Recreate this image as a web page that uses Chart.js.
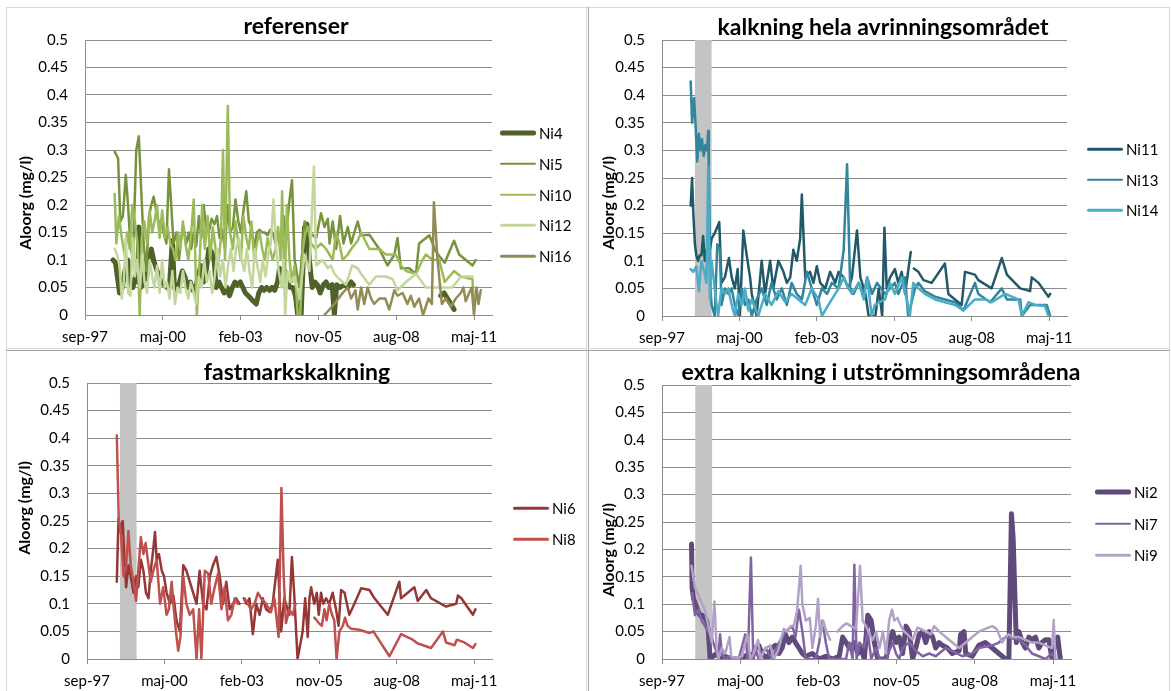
<!DOCTYPE html>
<html>
<head>
<meta charset="utf-8">
<script src="https://cdn.jsdelivr.net/npm/chart.js@4.4.1/dist/chart.umd.min.js"></script>
<style>
  body { margin: 0; background: #fff; font-family: Lato, sans-serif; }
  #page { position: relative; width: 1171px; height: 691px; overflow: hidden; background: #fff; }
  .box { position: absolute; }
  .line { position: absolute; pointer-events: none; }
  .title { position: absolute; font-weight: bold; font-size: 23px; color: #000; white-space: nowrap; transform: translate(-50%, -50%); }
  .ytitle { position: absolute; font-weight: bold; font-size: 16px; color: #000; white-space: nowrap; transform: translate(-50%, -50%) rotate(-90deg); }
  .legend { position: absolute; font-size: 15px; color: #000; }
  .legend .item { position: absolute; left: 0; height: 20px; width: 80px; }
  .legend .swatch { position: absolute; left: 0; width: 36px; top: 50%; transform: translateY(-50%); border-radius: 2px; }
  .legend .label { position: absolute; left: 39px; top: 1px; line-height: 18px; white-space: nowrap; }
</style>
</head>
<body>
<div id="page">
  <div class="box" style="left:0;top:0;width:585px;height:347px"><canvas id="chartRef"></canvas></div>
  <div class="box" style="left:585px;top:0;width:586px;height:347px"><canvas id="chartHela"></canvas></div>
  <div class="box" style="left:0;top:345px;width:585px;height:346px"><canvas id="chartFast"></canvas></div>
  <div class="box" style="left:585px;top:345px;width:586px;height:346px"><canvas id="chartExtra"></canvas></div>

  <div class="title" style="left:296px;top:25px">referenser</div>
  <div class="title" style="left:883px;top:26px">kalkning hela avrinningsområdet</div>
  <div class="title" style="left:297px;top:371px">fastmarkskalkning</div>
  <div class="title" style="left:881px;top:371px">extra kalkning i utströmningsområdena</div>

  <div class="ytitle" style="left:24px;top:203px">Aloorg (mg/l)</div>
  <div class="ytitle" style="left:607px;top:203px">Aloorg (mg/l)</div>
  <div class="ytitle" style="left:23px;top:508px">Aloorg (mg/l)</div>
  <div class="ytitle" style="left:607px;top:550px">Aloorg (mg/l)</div>

  <div class="legend" id="legendRef" style="left:500px;top:123px"></div>
  <div class="legend" id="legendHela" style="left:1087px;top:139px"></div>
  <div class="legend" id="legendFast" style="left:513px;top:498px"></div>
  <div class="legend" id="legendExtra" style="left:1095px;top:482px"></div>

  <!-- ramar runt diagrammen -->
  <div class="line" style="left:6px;top:7px;width:1164px;height:1px;background:#d9d9d9"></div>
  <div class="line" style="left:6px;top:7px;width:1px;height:684px;background:#d9d9d9"></div>
  <div class="line" style="left:1169px;top:7px;width:1px;height:684px;background:#d9d9d9"></div>
  <div class="line" style="left:586px;top:7px;width:1px;height:684px;background:#d9d9d9"></div>
  <div class="line" style="left:588px;top:7px;width:1px;height:684px;background:#a6a6a6"></div>
  <div class="line" style="left:6px;top:348px;width:1164px;height:1px;background:#d9d9d9"></div>
  <div class="line" style="left:6px;top:350px;width:1164px;height:1px;background:#a6a6a6"></div>
</div>

<script>
// ---- data: [decimalår, Aloorg mg/l], null = uppehåll i mätserien ----

// referenser
const ni4 = [[1998.65,0.10],[1998.74,0.095],[1998.83,0.06],[1998.88,0.04],[1998.98,0.05],[1999.07,0.08],[1999.17,0.10],[1999.26,0.06],[1999.35,0.05],[1999.45,0.07],[1999.52,0.06],[1999.56,0.16],[1999.63,0.05],[1999.73,0.06],[1999.82,0.07],[1999.92,0.10],[2000.00,0.12],[2000.08,0.10],[2000.17,0.085],[2000.27,0.07],[2000.36,0.06],[2000.45,0.055],[2000.55,0.05],[2000.64,0.055],[2000.74,0.135],[2000.81,0.05],[2000.90,0.045],[2000.99,0.06],[2001.09,0.08],[2001.18,0.07],[2001.28,0.05],[2001.37,0.06],[2001.46,0.045],[2001.56,0.05],[2001.65,0.07],[2001.74,0.09],[2001.84,0.06],[2001.93,0.08],[2002.02,0.12],[2002.12,0.115],[2002.21,0.10],[2002.28,0.05],[2002.38,0.06],[2002.47,0.05],[2002.56,0.04],[2002.66,0.05],[2002.75,0.035],[2002.85,0.05],[2002.94,0.06],[2003.03,0.055],[2003.13,0.06],[2003.22,0.05],[2003.31,0.04],[2003.41,0.035],[2003.50,0.03],[2003.59,0.025],[2003.69,0.02],[2003.78,0.04],[2003.88,0.05],[2003.97,0.045],[2004.06,0.05],[2004.16,0.045],[2004.25,0.05],[2004.34,0.045],[2004.44,0.06],[2004.51,0.085],[2004.60,0.07],[2004.69,0.08],[2004.79,0.06],[2004.88,0.05],[2004.98,0.05],[2005.07,0.035],[2005.15,0],[2005.27,0],[2005.39,0.16],[2005.47,0.165],[2005.56,0.10],[2005.66,0.05],[2005.75,0.06],[2005.84,0.055],[2005.94,0.04],[2006.05,0.055],[2006.15,0.06],[2006.24,0.05],[2006.36,0.055],[2006.44,0],[2006.52,0.055],[2006.64,0.05],[2006.79,0.055],[2006.91,0.05],[2007.03,0.06],[2007.11,0.055],[2008.50,null],[2010.18,0.035],[2010.30,0.04],[2010.42,0.03],[2010.54,0.02],[2010.65,0.01]];
const ni5 = [[1998.71,0.297],[1998.83,0.285],[1998.91,0.17],[1999.00,0.18],[1999.10,0.255],[1999.18,0.20],[1999.26,0.13],[1999.35,0.10],[1999.47,0.30],[1999.56,0.325],[1999.65,0.22],[1999.73,0.13],[1999.82,0.08],[1999.92,0.18],[2000.00,0.20],[2000.08,0.215],[2000.17,0.19],[2000.27,0.16],[2000.35,0.175],[2000.43,0.15],[2000.53,0.13],[2000.62,0.265],[2000.70,0.20],[2000.78,0.13],[2000.88,0.15],[2000.97,0.10],[2001.05,0.14],[2001.13,0.16],[2001.23,0.13],[2001.32,0.15],[2001.40,0.12],[2001.49,0.15],[2001.58,0.125],[2001.67,0.18],[2001.76,0.14],[2001.84,0.20],[2001.93,0.16],[2002.02,0.15],[2002.12,0.175],[2002.22,0.165],[2002.31,0.18],[2002.40,0.14],[2002.49,0.155],[2002.59,0.12],[2002.68,0.20],[2002.77,0.15],[2002.87,0.16],[2002.96,0.21],[2003.06,0.17],[2003.15,0.15],[2003.24,0.19],[2003.34,0.225],[2003.43,0.17],[2003.52,0.16],[2003.62,0.12],[2003.71,0.15],[2003.81,0.155],[2003.90,0.15],[2003.99,0.15],[2004.09,0.145],[2004.18,0.155],[2004.27,0.15],[2004.37,0.13],[2004.46,0.15],[2004.55,0.12],[2004.65,0.18],[2004.74,0.14],[2004.84,0.20],[2004.95,0.245],[2005.04,0.10],[2005.21,0.05],[2005.39,0.17],[2005.56,0.15],[2005.80,0.14],[2005.97,0.185],[2006.09,0.16],[2006.21,0.175],[2006.27,0.13],[2006.38,0.17],[2006.50,0.12],[2006.64,0.18],[2006.76,0.13],[2006.91,0.16],[2007.03,0.13],[2007.14,0.15],[2007.26,0.17],[2007.38,0.145],[2007.67,0.146],[2008.02,0.12],[2008.31,0.09],[2008.55,0.11],[2008.66,0.14],[2008.78,0.085],[2009.07,0.085],[2009.31,0.075],[2009.42,0.13],[2009.78,0.145],[2010.01,0.115],[2010.32,0.095],[2010.65,0.135],[2010.83,0.11],[2011.30,0.09],[2011.41,0.10]];
const ni10 = [[1998.71,0.22],[1998.77,0.13],[1998.86,0.18],[1998.96,0.14],[1999.06,0.11],[1999.15,0.15],[1999.24,0.12],[1999.33,0.20],[1999.42,0.17],[1999.51,0.13],[1999.59,0],[1999.66,0.14],[1999.75,0.17],[1999.85,0.13],[1999.94,0.19],[2000.03,0.15],[2000.11,0.17],[2000.20,0.20],[2000.29,0.14],[2000.38,0.19],[2000.48,0.14],[2000.57,0.16],[2000.67,0.13],[2000.76,0.12],[2000.85,0.10],[2000.94,0.15],[2001.02,0.12],[2001.11,0.17],[2001.20,0.13],[2001.30,0.10],[2001.39,0.14],[2001.49,0.21],[2001.60,0],[2001.70,0.10],[2001.79,0.20],[2001.88,0.12],[2001.98,0.18],[2002.07,0.10],[2002.16,0.16],[2002.26,0.12],[2002.35,0.09],[2002.45,0.14],[2002.52,0.30],[2002.59,0.10],[2002.69,0.38],[2002.77,0.15],[2002.87,0.12],[2002.96,0.17],[2003.06,0.13],[2003.15,0.10],[2003.24,0.18],[2003.34,0.14],[2003.43,0.12],[2003.52,0.17],[2003.62,0.10],[2003.71,0.13],[2003.81,0.15],[2003.90,0.12],[2003.99,0.10],[2004.09,0.14],[2004.18,0.12],[2004.27,0.10],[2004.37,0.12],[2004.46,0.16],[2004.55,0.10],[2004.60,0.225],[2004.69,0.05],[2004.77,0.20],[2004.86,0.10],[2004.95,0.06],[2005.04,0.09],[2005.15,0],[2005.24,0],[2005.33,0.12],[2005.42,0.15],[2005.50,0.16],[2005.62,0.13],[2005.77,0.12],[2005.97,0.13],[2006.15,0.12],[2006.38,0.10],[2006.50,0.15],[2006.62,0.13],[2006.73,0.10],[2006.91,0.11],[2007.03,0.12],[2007.26,0.135],[2007.38,0.15],[2007.67,0.12],[2008.02,0.12],[2008.25,0.11],[2008.60,0.11],[2008.78,0.09],[2008.96,0.08],[2009.31,0.075],[2009.54,0.10],[2009.66,0.11],[2009.89,0.10],[2010.13,0.10],[2010.32,0.06],[2010.65,0.08],[2010.89,0.07],[2011.30,0.065],[2011.35,0.02]];
const ni12 = [[1998.71,0.12],[1998.79,0.11],[1998.88,0.09],[1998.96,0.03],[1999.03,0.06],[1999.10,0.14],[1999.18,0.04],[1999.26,0.035],[1999.35,0.14],[1999.42,0.07],[1999.49,0.10],[1999.59,0.05],[1999.68,0.11],[1999.76,0.06],[1999.85,0.04],[1999.94,0.10],[2000.03,0.07],[2000.11,0.05],[2000.20,0.09],[2000.29,0.04],[2000.38,0.10],[2000.47,0.05],[2000.55,0.06],[2000.64,0.03],[2000.74,0.08],[2000.83,0.02],[2000.92,0.05],[2001.02,0.04],[2001.11,0.08],[2001.20,0.05],[2001.30,0.03],[2001.39,0.06],[2001.49,0.04],[2001.58,0.02],[2001.67,0.07],[2001.77,0.05],[2001.86,0.10],[2001.95,0.06],[2002.05,0.08],[2002.14,0.04],[2002.23,0.07],[2002.33,0.12],[2002.42,0.07],[2002.52,0.10],[2002.61,0.05],[2002.70,0.09],[2002.80,0.12],[2002.89,0.08],[2002.98,0.12],[2003.08,0.14],[2003.17,0.10],[2003.27,0.08],[2003.36,0.12],[2003.45,0.08],[2003.55,0.05],[2003.64,0.12],[2003.73,0.09],[2003.83,0.06],[2003.92,0.10],[2004.02,0.07],[2004.11,0.11],[2004.20,0.13],[2004.30,0.21],[2004.39,0.12],[2004.48,0.08],[2004.58,0.05],[2004.65,0.10],[2004.71,0],[2004.79,0.08],[2004.88,0.06],[2005.04,0.07],[2005.21,0.03],[2005.39,0.11],[2005.56,0.08],[2005.72,0.27],[2005.80,0.09],[2005.91,0.095],[2006.03,0.10],[2006.21,0.085],[2006.32,0.09],[2006.44,0.075],[2006.62,0.065],[2006.85,0.055],[2007.06,0.09],[2007.26,0.085],[2007.38,0.075],[2007.67,0.055],[2007.90,0.07],[2008.25,0.07],[2008.49,0.065],[2008.66,0.045],[2008.96,0.06],[2009.31,0.075],[2009.66,0.05],[2010.13,0.05],[2010.59,0.05],[2010.89,0.07],[2011.30,0.07]];
const ni16 = [[2006.09,0],[2006.44,0.02],[2006.73,0.04],[2006.91,0.05],[2007.03,0.03],[2007.18,0.045],[2007.26,0.01],[2007.38,0.05],[2007.49,0.02],[2007.61,0.05],[2007.73,0.03],[2007.84,0.02],[2008.02,0.03],[2008.23,0.03],[2008.37,0.01],[2008.55,0.045],[2008.66,0.035],[2008.84,0.04],[2009.01,0.02],[2009.13,0.035],[2009.25,0.015],[2009.42,0.03],[2009.56,0],[2009.75,0.03],[2009.87,0.02],[2009.94,0.205],[2010.07,0.10],[2010.22,0.02],[2010.36,0.03],[2010.54,0.015],[2010.71,0.03],[2010.89,0.04],[2010.98,0.05],[2011.06,0.025],[2011.18,0.04],[2011.27,0.05],[2011.35,0],[2011.44,0.05],[2011.51,0.02],[2011.59,0.045]];

// kalkning hela avrinningsområdet
const ni11 = [[1998.68,0.20],[1998.73,0.25],[1998.77,0.19],[1998.83,0.13],[1998.88,0.11],[1998.94,0.10],[1999.00,0.11],[1999.06,0.11],[1999.12,0.145],[1999.18,0.10],[1999.24,0.12],[1999.30,0.10],[1999.42,0.14],[1999.53,0.15],[1999.69,0.17],[1999.77,0.06],[1999.89,0.07],[2000.03,0.105],[2000.13,0.07],[2000.24,0.05],[2000.34,0.085],[2000.42,0],[2000.54,0.155],[2000.66,0.11],[2000.78,0.07],[2000.84,0.04],[2001.01,0],[2001.19,0.10],[2001.31,0.04],[2001.49,0.10],[2001.60,0.05],[2001.78,0.10],[2001.96,0.08],[2002.08,0.06],[2002.20,0.07],[2002.31,0.12],[2002.43,0.10],[2002.55,0.14],[2002.61,0.22],[2002.73,0.07],[2002.90,0.08],[2003.02,0.06],[2003.14,0.09],[2003.26,0.06],[2003.44,0.05],[2003.61,0.08],[2003.79,0.06],[2003.91,0.08],[2004.09,0.07],[2004.26,0.05],[2004.38,0.07],[2004.56,0.155],[2004.68,0.07],[2004.86,0.04],[2004.97,0],[2005.09,0],[2005.21,0],[2005.33,0.05],[2005.45,0],[2005.53,0.16],[2005.61,0.05],[2005.73,0.07],[2005.90,0.085],[2006.02,0.06],[2006.14,0.08],[2006.26,0.04],[2006.46,0.116],[2006.50,null],[2006.57,0.086],[2006.73,0.08],[2006.91,0.065],[2007.20,0.06],[2007.67,0.095],[2007.79,0.04],[2008.26,0.02],[2008.38,0.08],[2008.73,0.075],[2008.85,0.065],[2009.32,0.05],[2009.68,0.105],[2009.86,0.075],[2010.33,0.05],[2010.68,0.045],[2010.74,0.07],[2010.98,0.06],[2011.33,0.035],[2011.39,0.04]];
const ni13 = [[1998.68,0.425],[1998.73,0.35],[1998.80,0.395],[1998.86,0.34],[1998.91,0.28],[1998.97,0.33],[1999.03,0.30],[1999.08,0.32],[1999.14,0.29],[1999.20,0.31],[1999.26,0.30],[1999.30,0.335],[1999.32,0.27],[1999.38,0.05],[1999.42,0.02],[1999.53,0],[1999.62,0.13],[1999.71,0.12],[1999.77,0.02],[1999.89,0.05],[2000.01,0.04],[2000.13,0.05],[2000.24,0.02],[2000.36,0],[2000.48,0.05],[2000.60,0.02],[2000.72,0.03],[2000.84,0],[2001.01,0.03],[2001.19,0.05],[2001.37,0.02],[2001.54,0.06],[2001.72,0.03],[2001.90,0.05],[2002.08,0.02],[2002.25,0.06],[2002.43,0.04],[2002.61,0.03],[2002.79,0.08],[2002.96,0.05],[2003.14,0.02],[2003.32,0.05],[2003.50,0.04],[2003.67,0.06],[2003.91,0.05],[2004.09,0.12],[2004.21,0.275],[2004.32,0.05],[2004.44,0.04],[2004.62,0.06],[2004.80,0.04],[2004.92,0.07],[2005.09,0.04],[2005.27,0.06],[2005.55,0.04],[2005.73,0.05],[2005.90,0.06],[2006.02,0.04],[2006.26,0.07],[2006.37,0],[2006.61,0.05],[2006.73,0.06],[2006.96,0.045],[2007.32,0.035],[2007.67,0.03],[2008.03,0.025],[2008.32,0.01],[2008.73,0.06],[2008.85,0.04],[2009.27,0.025],[2009.68,0.05],[2009.86,0.03],[2010.33,0.03],[2010.39,0],[2010.68,0.02],[2010.86,0.02],[2011.27,0.02],[2011.39,0]];
const ni14 = [[1998.68,0.085],[1998.77,0.08],[1998.88,0.09],[1998.97,0.045],[1999.06,0.10],[1999.16,0.08],[1999.24,0.06],[1999.30,0.27],[1999.36,0.03],[1999.42,0.10],[1999.53,0.05],[1999.65,0],[1999.77,0.05],[1999.89,0.04],[2000.01,0.05],[2000.13,0.02],[2000.24,0],[2000.36,0.04],[2000.48,0.02],[2000.60,0.05],[2000.72,0.01],[2000.84,0.03],[2001.07,0],[2001.31,0.04],[2001.54,0.02],[2001.78,0.045],[2002.02,0.025],[2002.25,0.04],[2002.49,0.03],[2002.73,0.02],[2002.96,0.05],[2003.20,0.03],[2003.32,0],[2003.55,0.02],[2003.79,0.04],[2003.91,0.05],[2004.09,0.07],[2004.26,0.05],[2004.38,0.04],[2004.62,0.06],[2004.80,0.03],[2004.92,0.07],[2005.08,0],[2005.19,0.02],[2005.55,0.03],[2005.73,0.06],[2005.90,0.04],[2006.14,0.07],[2006.32,0.03],[2006.43,0],[2006.55,0.06],[2006.73,0.05],[2006.96,0.04],[2007.32,0.03],[2007.67,0.025],[2008.03,0.02],[2008.32,0.01],[2008.73,0.03],[2009.09,0.03],[2009.32,0.025],[2009.80,0.04],[2010.27,0.03],[2010.39,0],[2010.62,0.025],[2010.86,0.02],[2011.21,0.018],[2011.33,0]];

// fastmarkskalkning
const ni6 = [[1998.72,0.14],[1998.78,0.255],[1998.86,0.23],[1998.93,0.25],[1998.99,0.18],[1999.05,0.13],[1999.13,0.17],[1999.21,0.15],[1999.31,0.12],[1999.40,0.15],[1999.48,0.13],[1999.57,0.18],[1999.66,0.16],[1999.75,0.12],[1999.84,0.11],[1999.92,0.16],[1999.99,0.19],[2000.07,0.23],[2000.13,0.18],[2000.21,0.19],[2000.31,0.16],[2000.39,0.15],[2000.48,0.12],[2000.60,0.10],[2000.72,0.115],[2000.83,0.07],[2000.95,0.05],[2001.07,0.17],[2001.18,0.16],[2001.30,0.14],[2001.42,0.12],[2001.54,0.10],[2001.65,0.16],[2001.77,0.10],[2001.89,0.09],[2002.01,0.15],[2002.12,0.17],[2002.24,0.185],[2002.36,0.15],[2002.48,0.10],[2002.59,0.14],[2002.71,0.09],[2002.83,0.10],[2002.94,0.11],[2003.06,0.10],[2003.12,null],[2003.21,0.11],[2003.30,0.10],[2003.41,0.11],[2003.53,0.045],[2003.65,0.10],[2003.77,0.08],[2003.88,0.11],[2004.00,0.09],[2004.12,0.085],[2004.23,0.10],[2004.41,0.18],[2004.53,0.05],[2004.64,0.11],[2004.76,0.09],[2004.82,0.08],[2004.91,0.185],[2004.99,0.12],[2005.11,0],[2005.29,0.05],[2005.38,0.11],[2005.47,0.04],[2005.53,0.11],[2005.59,0.13],[2005.70,0.10],[2005.79,0.12],[2005.86,0.08],[2005.94,0.12],[2006.02,0.10],[2006.12,0.11],[2006.23,0.10],[2006.35,0.12],[2006.47,0.09],[2006.56,0.06],[2006.65,0.125],[2006.77,0.12],[2006.94,0.08],[2007.12,0.10],[2007.36,0.128],[2007.65,0.125],[2007.83,0.11],[2008.30,0.08],[2008.71,0.14],[2008.77,0.11],[2009.24,0.13],[2009.36,0.105],[2009.66,0.125],[2009.83,0.11],[2010.36,0.095],[2010.72,0.10],[2010.78,0.115],[2010.90,0.11],[2011.31,0.08],[2011.40,0.09]];
const ni8 = [[1998.72,0.405],[1998.79,0.25],[1998.86,0.23],[1998.96,0.15],[1999.05,0.17],[1999.13,0.232],[1999.21,0.17],[1999.31,0.14],[1999.40,0.105],[1999.48,0.16],[1999.57,0.221],[1999.66,0.19],[1999.74,0.21],[1999.84,0.17],[1999.92,0.14],[2000.01,0.16],[2000.13,0.18],[2000.25,0.10],[2000.36,0.13],[2000.48,0.08],[2000.56,0.09],[2000.66,0.14],[2000.72,0.10],[2000.81,0.05],[2000.89,0.015],[2000.97,0.04],[2001.07,0.15],[2001.18,0.10],[2001.30,0.08],[2001.42,0.09],[2001.54,0],[2001.63,0.09],[2001.71,0],[2001.83,0.16],[2001.95,0.155],[2002.06,0.10],[2002.18,0.13],[2002.30,0.155],[2002.42,0.09],[2002.53,0.13],[2002.65,0.07],[2002.77,0.08],[2002.89,0.11],[2003.00,0.10],[2003.12,null],[2003.24,0.11],[2003.35,0.10],[2003.47,0.09],[2003.59,0.10],[2003.71,0.12],[2003.82,0.11],[2004.00,0.10],[2004.17,0.085],[2004.29,0.11],[2004.44,0.04],[2004.54,0.31],[2004.62,0.15],[2004.70,0.065],[2004.82,0.09],[2004.94,0.08],[2005.04,0.10],[2005.40,null],[2005.70,0.075],[2005.79,0.07],[2005.86,0.065],[2005.97,0.06],[2006.06,0.09],[2006.14,0.07],[2006.23,0.10],[2006.33,0.08],[2006.41,0.07],[2006.49,0],[2006.59,0.05],[2006.71,0.06],[2006.79,0.075],[2006.88,0.06],[2007.00,0.055],[2007.30,0.053],[2007.65,0.047],[2007.79,0.05],[2008.36,0.005],[2008.77,0.045],[2009.18,0.035],[2009.36,0.028],[2009.83,0.02],[2010.25,0.05],[2010.36,0.03],[2010.66,0.025],[2010.74,0.035],[2011.01,0.03],[2011.31,0.02],[2011.40,0.027]];

// extra kalkning i utströmningsområdena
const ni2 = [[1998.70,0.21],[1998.72,0.13],[1998.77,0.11],[1998.84,0.10],[1998.91,0.09],[1998.99,0.08],[1999.08,0.08],[1999.15,0.075],[1999.23,0.07],[1999.29,0.05],[1999.35,0],[1999.46,0.005],[1999.58,0.01],[1999.70,0],[1999.88,0.005],[2000.11,0],[2000.47,0],[2000.70,0.01],[2000.82,0],[2000.93,0.02],[2001.05,0.025],[2001.17,0.01],[2001.34,0],[2001.52,0.02],[2001.64,0.025],[2001.76,0.01],[2001.87,0.02],[2001.99,0.045],[2002.11,0.03],[2002.23,0.04],[2002.34,0.03],[2002.46,0.02],[2002.58,0.01],[2002.70,0.005],[2002.93,0.01],[2003.17,0],[2003.40,0.005],[2003.64,0],[2003.87,0.005],[2003.99,0.04],[2004.11,0.03],[2004.22,0.02],[2004.40,0.03],[2004.52,0.01],[2004.63,0.02],[2004.75,0],[2004.87,0.08],[2004.99,0.07],[2005.10,0.03],[2005.22,0],[2005.40,0],[2005.51,0],[2005.62,0.03],[2005.74,0.05],[2005.86,0.03],[2005.97,0.04],[2006.09,0.01],[2006.21,0.06],[2006.32,0.05],[2006.44,0],[2006.55,0.02],[2006.67,0.045],[2006.79,0.05],[2006.90,0.03],[2007.02,0.05],[2007.14,0.04],[2007.25,0.02],[2007.37,0.03],[2007.48,0.025],[2007.66,0.02],[2007.83,0.01],[2008.07,0.015],[2008.12,0.045],[2008.24,0.05],[2008.30,0.01],[2008.53,0.005],[2008.76,0.025],[2008.98,0.03],[2009.23,0.02],[2009.46,0.01],[2009.69,0],[2009.81,0],[2009.90,0.265],[2009.96,0.22],[2010.07,0.03],[2010.16,0.05],[2010.28,0.03],[2010.39,0.02],[2010.51,0.04],[2010.62,0.035],[2010.74,0.04],[2010.86,0.02],[2010.97,0.03],[2011.09,0.035],[2011.21,0.035],[2011.32,0],[2011.44,0.035],[2011.52,0.04],[2011.61,0]];
const ni7 = [[1998.72,0.12],[1998.82,0.08],[1998.94,0.09],[1999.05,0.07],[1999.17,0.06],[1999.29,0.05],[1999.41,0.04],[1999.52,0.02],[1999.64,0.005],[1999.70,0.045],[1999.76,0.01],[1999.88,0],[1999.99,0.005],[2000.11,0],[2000.35,0],[2000.58,0.045],[2000.67,0],[2000.78,0.185],[2000.86,0],[2000.93,0.02],[2001.05,0],[2001.29,0.02],[2001.52,0],[2001.76,0.03],[2001.99,0.05],[2002.23,0.06],[2002.34,0.04],[2002.46,0.09],[2002.58,0.05],[2002.70,0],[2003.05,0],[2003.17,0.03],[2003.28,0.07],[2003.40,0.03],[2003.52,0],[2003.87,0],[2004.11,0],[2004.22,0.03],[2004.34,0],[2004.40,0.172],[2004.48,0],[2004.58,0.03],[2004.75,0.02],[2004.87,0.05],[2004.99,0],[2005.16,0.02],[2005.28,0],[2005.51,0],[2005.74,0.03],[2005.86,0.01],[2005.97,0],[2006.09,0.02],[2006.32,0.03],[2006.55,0.015],[2006.79,0.005],[2007.02,0.01],[2007.25,0.005],[2007.60,0.02],[2007.83,0.015],[2008.18,0.005],[2008.53,0.01],[2008.76,0.02],[2009.23,0.025],[2009.46,0.03],[2009.69,0.04],[2010.16,0.035],[2010.39,0.025],[2010.62,0.01],[2010.86,0.005],[2011.09,0],[2011.32,0.01],[2011.44,0]];
const ni9 = [[1998.70,0.17],[1998.76,0.15],[1998.82,0.13],[1998.91,0.12],[1998.99,0.11],[1999.08,0.10],[1999.17,0.09],[1999.23,0.075],[1999.29,0.06],[1999.41,0.03],[1999.50,0.105],[1999.58,0.02],[1999.64,0],[1999.76,0.02],[1999.88,0.01],[2000.03,0.04],[2000.09,0.005],[2000.23,0],[2000.47,0.005],[2000.58,0.03],[2000.66,0.045],[2000.76,0],[2000.87,0.01],[2001.03,0.035],[2001.11,0],[2001.29,0.02],[2001.46,0.025],[2001.58,0],[2001.73,0.015],[2001.93,0.055],[2002.05,0.05],[2002.17,0.06],[2002.28,0.06],[2002.40,0.09],[2002.52,0.17],[2002.58,0.10],[2002.70,0.07],[2002.84,0.075],[2002.93,0.02],[2003.05,0.06],[2003.13,0.11],[2003.20,0.04],[2003.31,0.07],[2003.42,0.05],[2003.55,0.035],[2003.65,null],[2003.81,0.05],[2003.99,0.06],[2004.13,0.065],[2004.28,0.06],[2004.46,0.055],[2004.60,0.17],[2004.69,0.07],[2004.81,0.06],[2004.93,0.045],[2005.05,0.035],[2005.16,0.05],[2005.28,0.02],[2005.40,0.05],[2005.51,0.01],[2005.62,0.071],[2005.72,0.09],[2005.80,0.07],[2005.91,0.075],[2006.03,0.06],[2006.15,0.05],[2006.26,0.045],[2006.44,0.035],[2006.61,0.057],[2006.73,0.055],[2006.90,0.05],[2007.08,0.045],[2007.19,0.06],[2007.37,0.05],[2007.60,0.04],[2007.83,0.03],[2008.07,0.02],[2008.30,0.03],[2008.53,0.04],[2008.76,0.05],[2008.98,0.055],[2009.23,0.06],[2009.38,0.055],[2009.58,0.03],[2009.69,0.04],[2009.81,0.045],[2009.93,0.04],[2010.16,0.04],[2010.39,0.035],[2010.62,0.03],[2010.86,0.03],[2011.09,0.025],[2011.32,0.02],[2011.38,0.071],[2011.44,0]];

// kalkningsperiod (grått fält)
const limingPeriod = [1998.83, 1999.42];

// axlar
const yTickValues = [0, 0.05, 0.1, 0.15, 0.2, 0.25, 0.3, 0.35, 0.4, 0.45, 0.5];
const xTickDays = [0, 1000, 2000, 3000, 4000, 5000];
const xMaxDays = 5230;
const monthNames = ['jan', 'feb', 'mar', 'apr', 'maj', 'jun', 'jul', 'aug', 'sep', 'okt', 'nov', 'dec'];
const axisStartMs = Date.UTC(1997, 8, 1);
const axisStartYear = 1997.666;

const gridColor = '#8c8c8c';
const lineW = 2.5;
const thickW = 5;
Chart.defaults.font.family = 'Lato, sans-serif';
Chart.defaults.font.size = 15;
Chart.defaults.color = '#000';

// decimalår -> dagar från axelns start
function yearToDay(y) {
    return (y - axisStartYear) * 365.25;
}

// dagar -> "maj-00"
function dayLabel(v) {
    const d = new Date(axisStartMs + v * 86400000);
    return monthNames[d.getUTCMonth()] + '-' + String(d.getUTCFullYear()).slice(2);
}

function createDataset(label, points, color, width, order) {
    return {
        label: label,
        data: points.map(p => ({ x: yearToDay(p[0]), y: p[1] })),
        borderColor: color,
        backgroundColor: color,
        borderWidth: width,
        pointRadius: 0,
        tension: 0,
        spanGaps: false,
        borderJoinStyle: 'round',
        borderCapStyle: 'round',
        order: order
    };
}

// grått fält för kalkningen, ritas under linjerna
const limingBand = {
    id: 'limingBand',
    beforeDatasetsDraw(chart) {
        const { ctx, chartArea, scales } = chart;
        const x0 = scales.x.getPixelForValue(yearToDay(limingPeriod[0]));
        const x1 = scales.x.getPixelForValue(yearToDay(limingPeriod[1]));
        ctx.save();
        ctx.fillStyle = '#c4c4c4';
        ctx.fillRect(x0, chartArea.top, x1 - x0, chartArea.bottom - chartArea.top);
        ctx.restore();
    }
};

// area = plottytans kanter i canvasens koordinater
function drawPanel(canvasId, datasets, area, boxW, boxH, withBand) {
    const ctx = document.getElementById(canvasId).getContext('2d');
    return new Chart(ctx, {
        type: 'line',
        data: { datasets: datasets },
        options: {
            responsive: true,
            maintainAspectRatio: false,
            animation: false,
            layout: { padding: { left: 0, top: area.t, right: boxW - area.r, bottom: 0 } },
            plugins: { legend: { display: false }, tooltip: { enabled: false } },
            scales: {
                x: {
                    type: 'linear',
                    min: 0,
                    max: xMaxDays,
                    afterFit: s => { s.height = boxH - area.b; },
                    afterBuildTicks: s => { s.ticks = xTickDays.map(v => ({ value: v })); },
                    ticks: { callback: v => dayLabel(v), padding: 8, maxRotation: 0, autoSkip: false },
                    grid: { drawOnChartArea: false, tickLength: 5, color: gridColor },
                    border: { color: gridColor }
                },
                y: {
                    min: 0,
                    max: 0.5,
                    afterFit: s => { s.width = area.l; },
                    afterBuildTicks: s => { s.ticks = yTickValues.map(v => ({ value: v })); },
                    ticks: { callback: v => String(Math.round(v * 100) / 100), padding: 17 },
                    grid: { color: gridColor, drawTicks: false },
                    border: { color: gridColor }
                }
            }
        },
        plugins: withBand ? [limingBand] : []
    });
}

function buildLegend(elId, datasets, spacing) {
    const el = document.getElementById(elId);
    datasets.forEach((ds, i) => {
        const item = document.createElement('div');
        item.className = 'item';
        item.style.top = (i * spacing) + 'px';
        const sw = document.createElement('div');
        sw.className = 'swatch';
        sw.style.height = ds.borderWidth + 'px';
        sw.style.background = ds.borderColor;
        const lb = document.createElement('div');
        lb.className = 'label';
        lb.textContent = ds.label;
        item.appendChild(sw);
        item.appendChild(lb);
        el.appendChild(item);
    });
}

const refSets = [
    createDataset('Ni4', ni4, '#4f6228', thickW, 5),
    createDataset('Ni5', ni5, '#77933c', lineW, 4),
    createDataset('Ni10', ni10, '#9bbb59', lineW, 3),
    createDataset('Ni12', ni12, '#c3d69b', lineW, 2),
    createDataset('Ni16', ni16, '#948a54', lineW, 1)
];
const helaSets = [
    createDataset('Ni11', ni11, '#215968', lineW, 3),
    createDataset('Ni13', ni13, '#31859c', lineW, 2),
    createDataset('Ni14', ni14, '#4bacc6', lineW, 1)
];
const fastSets = [
    createDataset('Ni6', ni6, '#953735', lineW, 2),
    createDataset('Ni8', ni8, '#c0504d', lineW, 1)
];
const extraSets = [
    createDataset('Ni2', ni2, '#604a7b', thickW, 3),
    createDataset('Ni7', ni7, '#8064a2', lineW, 2),
    createDataset('Ni9', ni9, '#b3a2c7', lineW, 1)
];

drawPanel('chartRef', refSets, { l: 85, t: 40, r: 492, b: 315 }, 585, 347, false);
drawPanel('chartHela', helaSets, { l: 77, t: 40, r: 482, b: 316 }, 586, 347, true);
drawPanel('chartFast', fastSets, { l: 87, t: 38, r: 492, b: 314 }, 585, 346, true);
drawPanel('chartExtra', extraSets, { l: 77, t: 40, r: 486, b: 314 }, 586, 346, true);

buildLegend('legendRef', refSets, 30.8);
buildLegend('legendHela', helaSets, 30.6);
buildLegend('legendFast', fastSets, 31);
buildLegend('legendExtra', extraSets, 31.6);
</script>
</body>
</html>
